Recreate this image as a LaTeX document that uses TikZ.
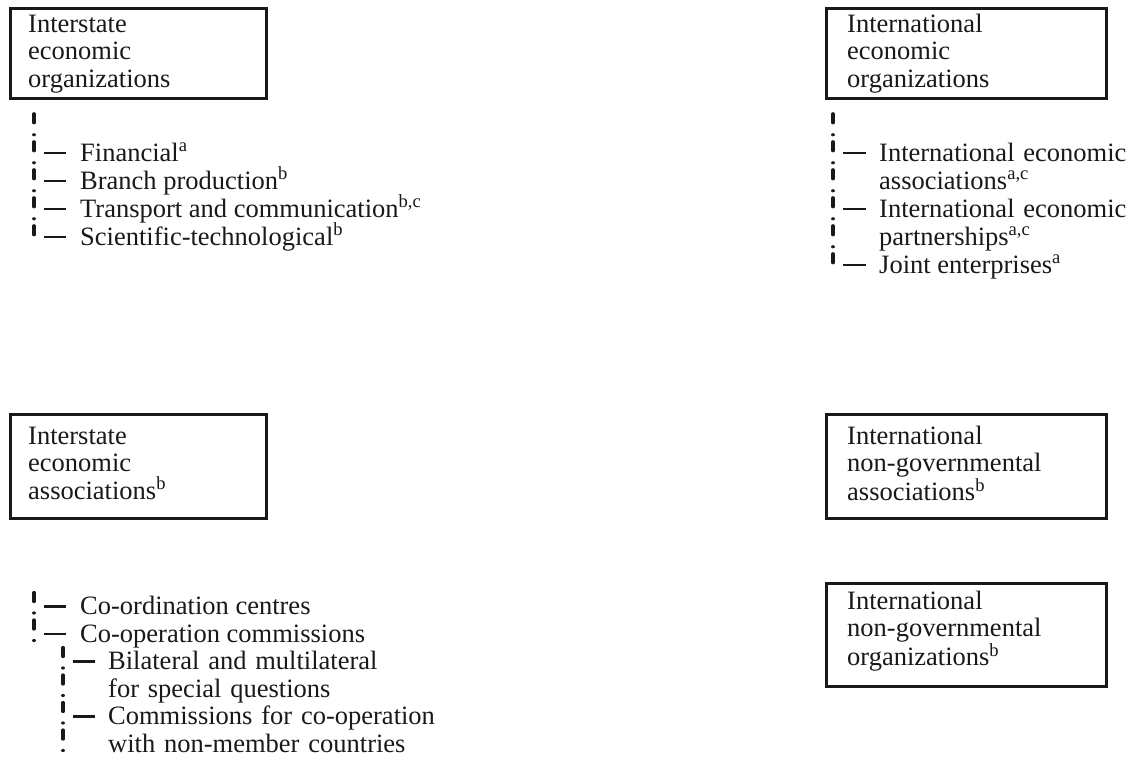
\documentclass[tikz,border=0pt]{standalone}
\usepackage{fontspec}
\setmainfont{Liberation Serif}
\usetikzlibrary{calc}
\colorlet{ink}{black!90}
\tikzset{
  orgbox/.style={draw=ink, line width=2.8pt, rectangle, inner sep=0pt, anchor=north west},
  boxtext/.style={text=ink, inner sep=0pt, anchor=base west, align=left, text width=300pt,
    font=\fontsize{26.5}{27.5}\selectfont},
  item/.style={text=ink, inner sep=0pt, anchor=base west, font=\fontsize{26.5}{28}\selectfont},
  mitem/.style={item, align=left, text width=380pt},
  bang/.style={draw=ink, line width=3.2pt, line cap=round, dash pattern=on 9pt off 12pt on 0.01pt off 6.99pt},
  bangb/.style={bang, dash pattern=on 9pt off 11.5pt on 0.01pt off 6.99pt},
  tick/.style={draw=ink, line width=2.6pt}
}
\begin{document}
\begin{tikzpicture}[x=1pt,y=-1pt]
\useasboundingbox (0,0) rectangle (1135,771);

% ---------- top left ----------
\node[orgbox, minimum width=256pt, minimum height=90pt] (b1) at (9,7) {};
\node[boxtext] (b1t) at ($(b1.north west)+(19,25)$) {Interstate\\economic\\organizations};
\node[item] (i1) at (80,161) {Financial\textsuperscript{a}};
\node[item] (i2) at (80,189) {Branch production\textsuperscript{b}};
\node[item] (i3) at (80,217) {Transport and communication\textsuperscript{b,c}};
\node[item] (i4) at (80,245) {Scientific-technological\textsuperscript{b}};
\coordinate (v1top) at ($(b1.south west)+(25,14)$);
\coordinate (v1bot) at ($(i4.base west)+(-46,0)$);
\draw[bang] (v1top) -- (v1bot);
\foreach \n in {i1,i2,i3,i4}
  \draw[tick] ($(\n.base west)+(-36,-8)$) -- ($(\n.base west)+(-14,-8)$);

% ---------- top right ----------
\node[orgbox, minimum width=280pt, minimum height=90pt] (b2) at (825,7) {};
\node[boxtext] (b2t) at ($(b2.north west)+(22,25)$) {International\\economic\\organizations};
\node[mitem] (r1) at (879,161) {International economic\\associations\textsuperscript{a,c}};
\node[mitem] (r2) at (879,217) {International economic\\partnerships\textsuperscript{a,c}};
\node[item] (r3) at (879,273) {Joint enterprises\textsuperscript{a}};
\coordinate (v2top) at ($(b2.south west)+(8,14)$);
\coordinate (v2bot) at ($(r3.base west)+(-46,0)$);
\draw[bang] (v2top) -- (v2bot);
\foreach \n in {r1,r2,r3}
  \draw[tick] ($(\n.base west)+(-36,-8)$) -- ($(\n.base west)+(-13,-8)$);

% ---------- bottom left ----------
\node[orgbox, minimum width=256pt, minimum height=104pt] (b3) at (9,413) {};
\node[boxtext] (b3t) at ($(b3.north west)+(19,31)$) {Interstate\\economic\\associations\textsuperscript{b}};
\node[item] (c1) at (80,614.5) {Co-ordination centres};
\node[item] (c2) at (80,642) {Co-operation commissions};
\node[mitem, font=\fontsize{26.5}{27.5}\selectfont] (d1) at (108,669.5) {Bilateral and multilateral\\for special questions};
\node[mitem, font=\fontsize{26.5}{27.5}\selectfont] (d2) at (108,724.5) {Commissions for co-operation\\with non-member countries};
\coordinate (v3top) at ($(c1.base west)+(-46,-22)$);
\coordinate (v3bot) at ($(c2.base west)+(-46,0)$);
\draw[bangb] (v3top) -- (v3bot);
\coordinate (v4top) at ($(d1.base west)+(-45,-22)$);
\coordinate (v4bot) at ($(d2.base west)+(-45,27.5)$);
\draw[bangb] (v4top) -- (v4bot);
\foreach \n in {c1,c2}
  \draw[tick] ($(\n.base west)+(-36,-8)$) -- ($(\n.base west)+(-14,-8)$);
\foreach \n in {d1,d2}
  \draw[tick] ($(\n.base west)+(-35,-8)$) -- ($(\n.base west)+(-13,-8)$);

% ---------- bottom right ----------
\node[orgbox, minimum width=280pt, minimum height=104pt] (b4) at (825,413) {};
\node[boxtext] (b4t) at ($(b4.north west)+(22,31)$) {International\\non-governmental\\associations\textsuperscript{b}};
\node[orgbox, minimum width=280pt, minimum height=103pt] (b5) at (825,582) {};
\node[boxtext] (b5t) at ($(b5.north west)+(22,27)$) {International\\non-governmental\\organizations\textsuperscript{b}};
\end{tikzpicture}
\end{document}
